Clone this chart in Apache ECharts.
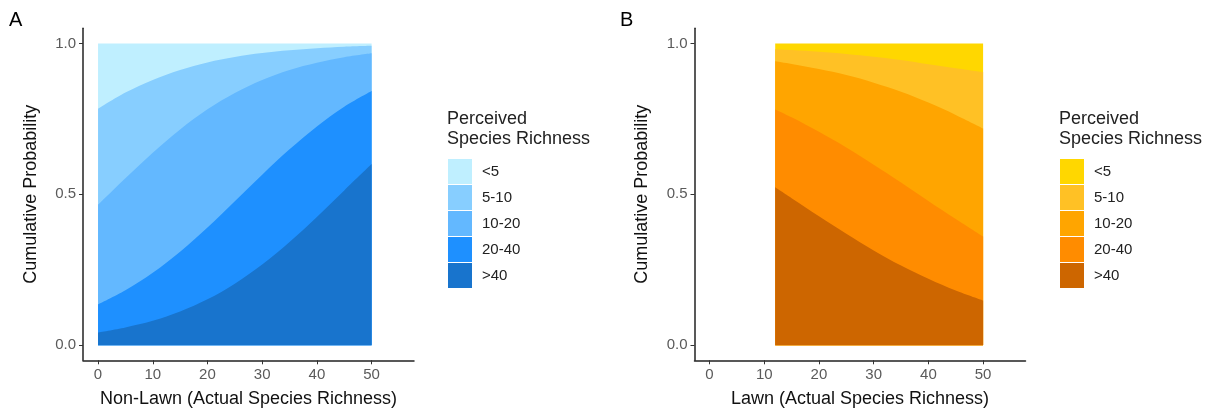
<!DOCTYPE html>
<html>
<head>
<meta charset="utf-8">
<script src="https://cdn.jsdelivr.net/npm/echarts@6/dist/echarts.min.js"></script>
<style>
html,body{margin:0;padding:0;background:#fff;}
#chart{width:1217px;height:414px;}
</style>
</head>
<body>
<div id="chart"></div>
<script>
// ---- Data ----
const categories = ['<5', '5-10', '10-20', '20-40', '>40'];
const xTicks = [0, 10, 20, 30, 40, 50];
const yTicks = [0, 0.5, 1.0];

// Panel A: Non-Lawn, cumulative probability boundaries
const xA = [0, 5, 10, 15, 20, 25, 30, 35, 40, 45, 50];
const A_all  = [1, 1, 1, 1, 1, 1, 1, 1, 1, 1, 1];
const A_gt5  = [0.783, 0.837, 0.879, 0.912, 0.937, 0.955, 0.968, 0.977, 0.984, 0.989, 0.992];
const A_gt10 = [0.465, 0.553, 0.638, 0.715, 0.782, 0.836, 0.879, 0.912, 0.936, 0.954, 0.967];
const A_gt20 = [0.135, 0.182, 0.240, 0.310, 0.390, 0.477, 0.565, 0.649, 0.725, 0.790, 0.842];
const A_gt40 = [0.042, 0.059, 0.081, 0.112, 0.152, 0.204, 0.267, 0.342, 0.425, 0.513, 0.600];

// Panel B: Lawn
const xB = [12, 15, 20, 25, 30, 35, 40, 45, 50];
const B_all  = [1, 1, 1, 1, 1, 1, 1, 1, 1];
const B_gt5  = [0.981, 0.978, 0.972, 0.965, 0.956, 0.945, 0.931, 0.918, 0.905];
const B_gt10 = [0.941, 0.932, 0.915, 0.895, 0.870, 0.840, 0.804, 0.763, 0.718];
const B_gt20 = [0.781, 0.755, 0.707, 0.655, 0.598, 0.539, 0.478, 0.418, 0.360];
const B_gt40 = [0.523, 0.487, 0.427, 0.369, 0.314, 0.264, 0.220, 0.181, 0.148];

const blues   = ['#BFEFFF', '#87CEFF', '#63B8FF', '#1E90FF', '#1874CD'];
const oranges = ['#FFD700', '#FFC125', '#FFA500', '#FF8C00', '#CD6600'];

const FONT = '"Liberation Sans", Arial, Helvetica, sans-serif';

function pairs(xs, ys) { return xs.map((x, i) => [x, ys[i]]); }

function areaSeries(prefix, idx, xs, layers, colors) {
  return layers.map((ys, k) => ({
    name: prefix + categories[k],
    type: 'line',
    xAxisIndex: idx, yAxisIndex: idx,
    data: pairs(xs, ys),
    smooth: 0.35,
    symbol: 'none',
    color: colors[k],
    lineStyle: { width: 0, color: colors[k] },
    areaStyle: { color: colors[k], opacity: 1, origin: 'auto' },
    emphasis: { disabled: true },
    silent: true,
    z: 2 + k
  }));
}

function xAxisCfg(idx, name) {
  return {
    type: 'value', gridIndex: idx, min: -2.75, max: 57.75,
    name: name, nameLocation: 'middle', nameGap: 30,
    nameTextStyle: { fontFamily: FONT, fontSize: 18, color: '#111' },
    axisLine: { show: true, onZero: false, lineStyle: { color: '#222', width: 1.5 } },
    axisTick: { show: true, length: 4, lineStyle: { color: '#333', width: 1 }, customValues: xTicks },
    axisLabel: { fontFamily: FONT, fontSize: 15, color: '#5a5a5a', margin: 7, customValues: xTicks },
    splitLine: { show: false }
  };
}
function yAxisCfg(idx) {
  return {
    type: 'value', gridIndex: idx, min: -0.05, max: 1.05,
    name: 'Cumulative Probability', nameLocation: 'middle', nameGap: 43,
    nameTextStyle: { fontFamily: FONT, fontSize: 18, color: '#111' },
    axisLine: { show: true, onZero: false, lineStyle: { color: '#222', width: 1.5 } },
    axisTick: { show: true, length: 4, lineStyle: { color: '#333', width: 1 }, customValues: yTicks },
    axisLabel: { fontFamily: FONT, fontSize: 15, color: '#5a5a5a', margin: 7, customValues: yTicks,
      formatter: v => Number(v).toFixed(1) },
    splitLine: { show: false }
  };
}
function legendCfg(prefix, left) {
  return {
    orient: 'vertical', left: left, top: 154,
    data: categories.map(c => prefix + c),
    icon: 'rect', itemWidth: 24, itemHeight: 25, itemGap: 1,
    selectedMode: false,
    formatter: n => n.slice(prefix.length),
    textStyle: { fontFamily: FONT, fontSize: 15, color: '#222', padding: [0, 0, 0, 5] }
  };
}

const chart = echarts.init(document.getElementById('chart'));
chart.setOption({
  animation: false,
  backgroundColor: '#fff',
  title: [
    { text: 'A', left: 4, top: 5, textStyle: { fontFamily: FONT, fontSize: 20, fontWeight: 'normal', color: '#000' } },
    { text: 'B', left: 615, top: 5, textStyle: { fontFamily: FONT, fontSize: 20, fontWeight: 'normal', color: '#000' } },
    { text: 'Perceived\nSpecies Richness', left: 442, top: 104,
      textStyle: { fontFamily: FONT, fontSize: 18, fontWeight: 'normal', color: '#222', lineHeight: 20 } },
    { text: 'Perceived\nSpecies Richness', left: 1054, top: 104,
      textStyle: { fontFamily: FONT, fontSize: 18, fontWeight: 'normal', color: '#222', lineHeight: 20 } }
  ],
  grid: [
    { left: 83, top: 28.3, width: 331, height: 332 },
    { left: 694.5, top: 28.3, width: 331, height: 332 }
  ],
  xAxis: [xAxisCfg(0, 'Non-Lawn (Actual Species Richness)'), xAxisCfg(1, 'Lawn (Actual Species Richness)')],
  yAxis: [yAxisCfg(0), yAxisCfg(1)],
  legend: [legendCfg('A:', 443), legendCfg('B:', 1055)],
  series: [
    ...areaSeries('A:', 0, xA, [A_all, A_gt5, A_gt10, A_gt20, A_gt40], blues),
    ...areaSeries('B:', 1, xB, [B_all, B_gt5, B_gt10, B_gt20, B_gt40], oranges)
  ]
});
</script>
</body>
</html>
